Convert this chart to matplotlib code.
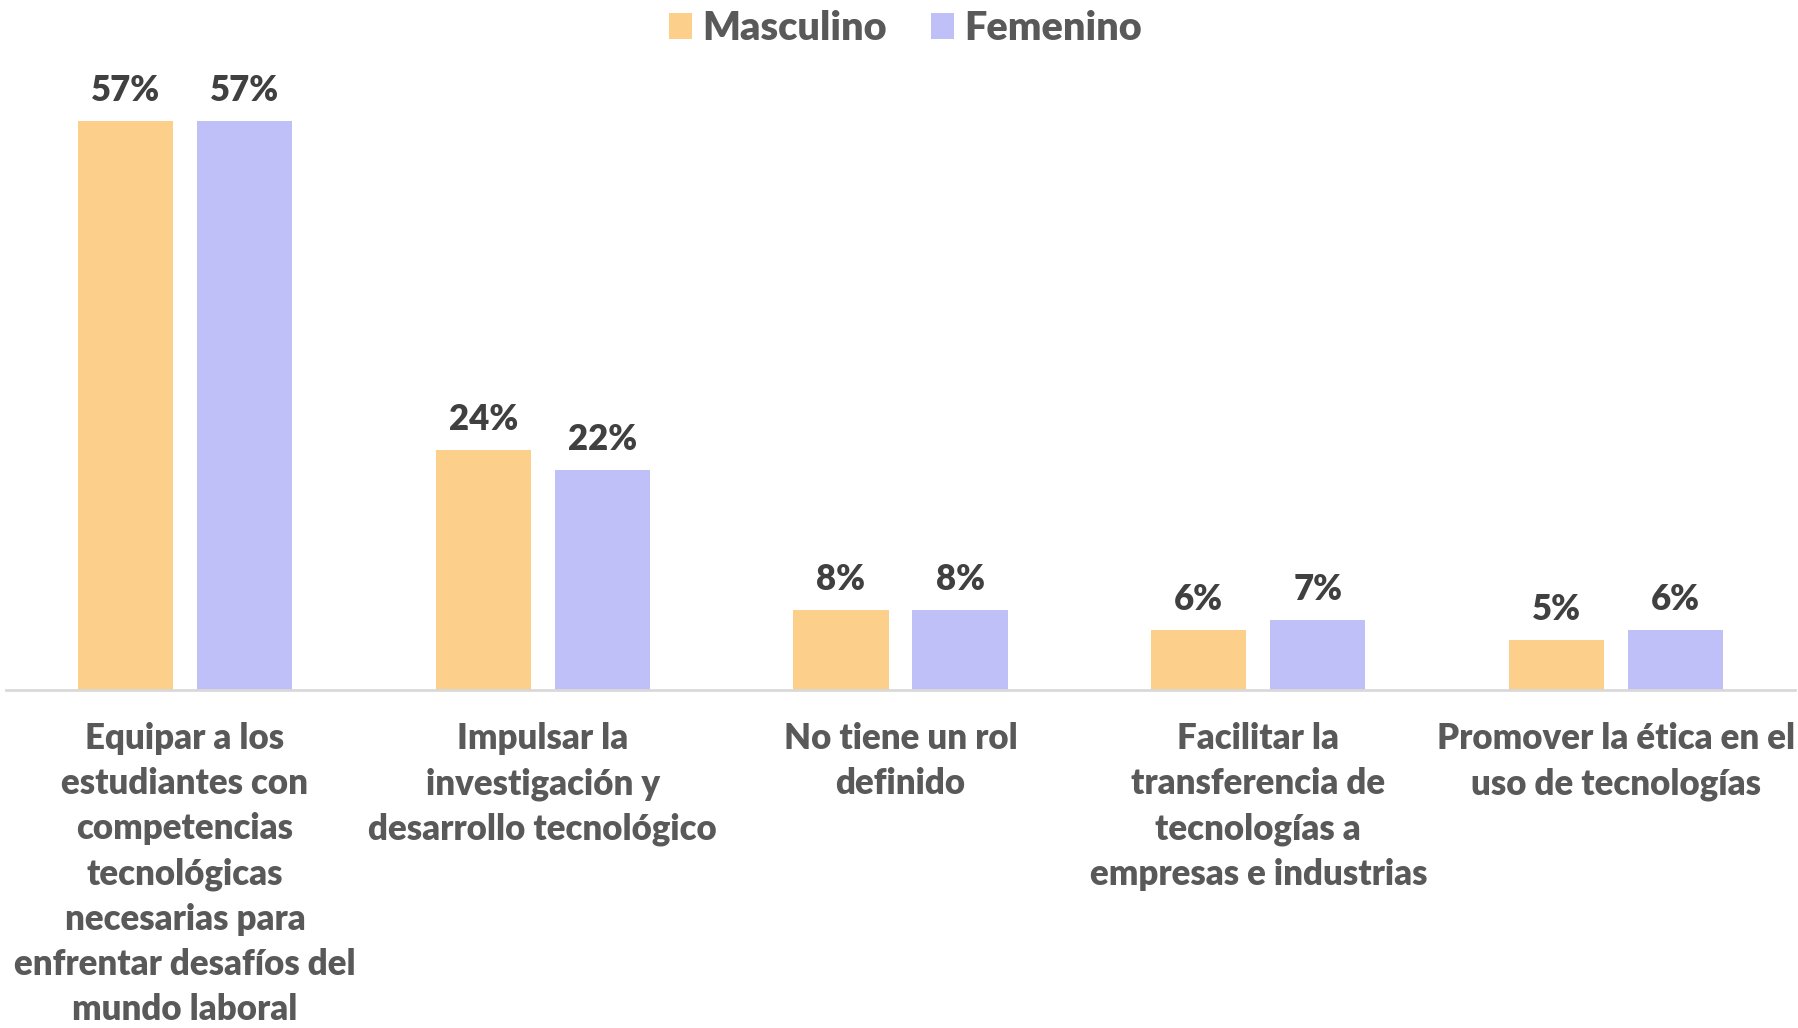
import matplotlib
matplotlib.use("Agg")
import matplotlib.pyplot as plt
import numpy as np

categories = [
    "Equipar a los\nestudiantes con\ncompetencias\ntecnológicas\nnecesarias para\nenfrentar desafíos del\nmundo laboral",
    "Impulsar la\ninvestigación y\ndesarrollo tecnológico",
    "No tiene un rol\ndefinido",
    "Facilitar la\ntransferencia de\ntecnologías a\nempresas e industrias",
    "Promover la ética en el\nuso de tecnologías",
]
masculino = [57, 24, 8, 6, 5]
femenino = [57, 22, 8, 7, 6]
series_names = ["Masculino", "Femenino"]
colors = ["#FCD08B", "#C0C0F8"]

plt.rcParams['font.family'] = ['Lato', 'DejaVu Sans']
plt.rcParams['font.weight'] = 'heavy'

fig = plt.figure(figsize=(17.98, 10.28), dpi=100)
ax = fig.add_axes([6/1798, 338/1028, 1789/1798, 599/1028])

x = np.arange(len(categories))
w = 0.266
off = 0.1665
b1 = ax.bar(x - off, masculino, w, color=colors[0], label=series_names[0])
b2 = ax.bar(x + off, femenino, w, color=colors[1], label=series_names[1])

for bars, vals in ((b1, masculino), (b2, femenino)):
    for r, v in zip(bars, vals):
        ax.annotate(f"{v}%", (r.get_x() + r.get_width()/2, v), xytext=(0, 14),
                    textcoords="offset pixels", ha="center", va="bottom",
                    fontsize=25, fontweight="heavy", color="#404040")

ax.set_xlim(-0.5, 4.5)
ax.set_ylim(0, 60)
ax.set_yticks([])
ax.set_xticks(x)
ax.set_xticklabels(categories, fontsize=25, fontweight="heavy", color="#595959",
                   linespacing=1.45)
ax.tick_params(axis="x", length=0, pad=23)
for s in ("top", "right", "left"):
    ax.spines[s].set_visible(False)
ax.spines["bottom"].set_color("#D9D9D9")
ax.spines["bottom"].set_linewidth(2)

fig.legend(handles=[b1, b2], labels=series_names, loc="upper center",
           bbox_to_anchor=(0.5035, 1.025), ncol=2, frameon=False,
           prop={"size": 28.5, "weight": "heavy"}, labelcolor="#595959",
           handlelength=0.6, handleheight=0.6, handletextpad=0.25, columnspacing=1.1)

fig.savefig("out.png", dpi=100)
